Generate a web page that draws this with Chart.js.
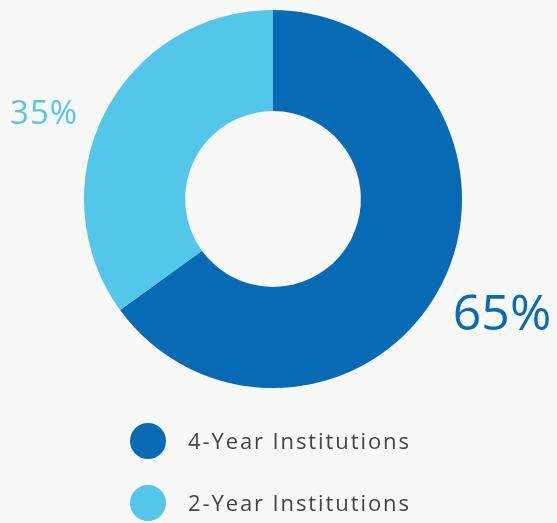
<!DOCTYPE html>
<html>
<head>
<meta charset="utf-8">
<script src="https://cdn.jsdelivr.net/npm/chart.js@4.4.1/dist/chart.umd.min.js"></script>
<style>
  html, body { margin: 0; padding: 0; background: #f8f8f7; }
  #wrap { width: 557px; height: 523px; position: relative; }
</style>
</head>
<body>
<div id="wrap"><canvas id="c" width="557" height="523"></canvas></div>
<script>
const categories = ["4-Year Institutions", "2-Year Institutions"];
const shares = [65, 35];
const sliceColors = ["#066ab5", "#52c7e9"];

const FONT = "'Open Sans', sans-serif";

const labelPlugin = {
  id: 'pctLabels',
  afterDatasetsDraw(chart) {
    const ctx = chart.ctx;
    const meta = chart.getDatasetMeta(0);
    ctx.save();
    meta.data.forEach((arc, i) => {
      const mid = (arc.startAngle + arc.endAngle) / 2;
      const big = i === 0;
      const r = arc.outerRadius * (big ? 1.36 : 1.30);
      const nudge = big ? { x: 0, y: 0 } : { x: -10, y: 27 };
      const x = arc.x + Math.cos(mid) * r + nudge.x;
      const y = arc.y + Math.sin(mid) * r + nudge.y;
      ctx.fillStyle = sliceColors[i];
      ctx.font = (big ? '500 50px ' : '500 33px ') + FONT;
      ctx.letterSpacing = big ? '0px' : '1px';
      ctx.textAlign = 'center';
      ctx.textBaseline = 'middle';
      ctx.fillText(shares[i] + '%', x, y);
    });
    ctx.restore();
  }
};

const legendPlugin = {
  id: 'customLegend',
  afterDraw(chart) {
    const ctx = chart.ctx;
    const x0 = 148, y0 = 441, gap = 62, rad = 18;
    ctx.save();
    categories.forEach((name, i) => {
      const y = y0 + i * gap;
      ctx.beginPath();
      ctx.arc(x0, y, rad, 0, Math.PI * 2);
      ctx.fillStyle = sliceColors[i];
      ctx.fill();
      ctx.fillStyle = '#444444';
      ctx.font = '500 22px ' + FONT;
      ctx.letterSpacing = '1.9px';
      ctx.textAlign = 'left';
      ctx.textBaseline = 'middle';
      ctx.fillText(name, 188, y + 2);
    });
    ctx.restore();
  }
};

new Chart(document.getElementById('c'), {
  type: 'doughnut',
  data: {
    labels: categories,
    datasets: [{
      data: shares,
      backgroundColor: sliceColors,
      borderWidth: 0,
      hoverOffset: 0
    }]
  },
  options: {
    responsive: false,
    animation: false,
    cutout: '46.5%',
    layout: { padding: { top: 10, bottom: 135, left: 0, right: 11 } },
    plugins: {
      legend: { display: false },
      tooltip: { enabled: false }
    }
  },
  plugins: [labelPlugin, legendPlugin]
});
</script>
</body>
</html>
